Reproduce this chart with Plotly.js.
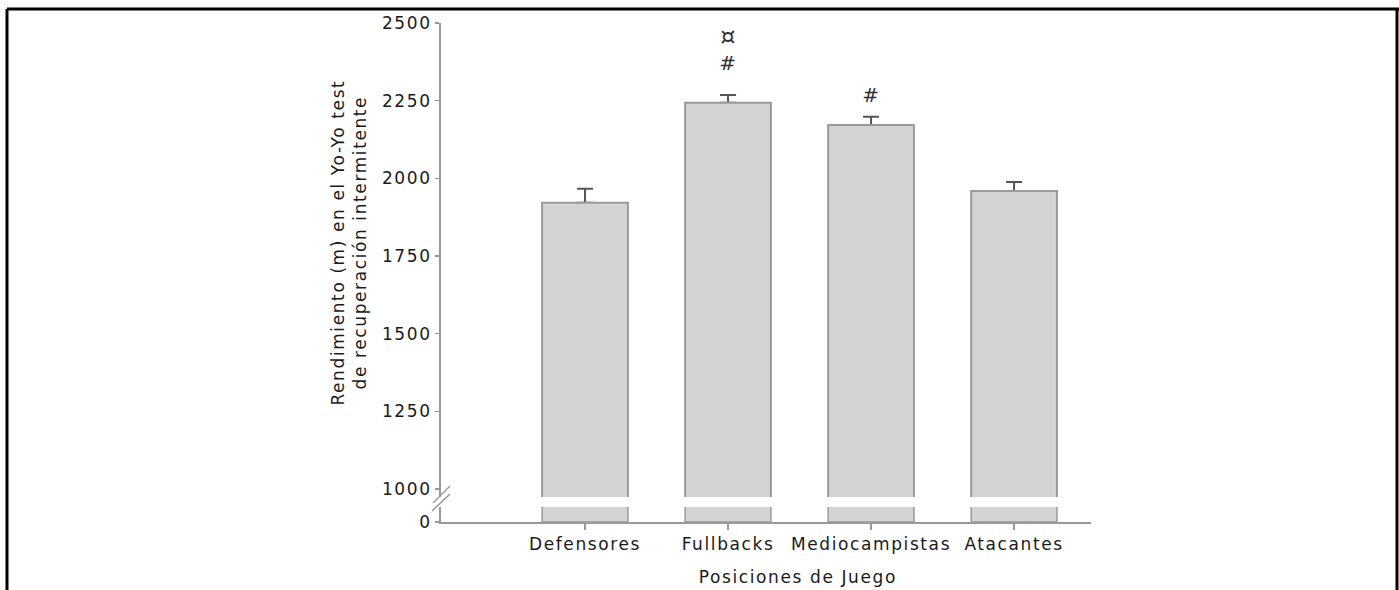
<!DOCTYPE html>
<html>
<head>
<meta charset="utf-8">
<script src="https://cdn.plot.ly/plotly-3.0.1.min.js"></script>
<style>
html, body { margin: 0; padding: 0; background: #fff; }
#chart { width: 1399px; height: 590px; }
.main-svg text { letter-spacing: 1.6px; }
</style>
</head>
<body>
<div id="chart"></div>
<script>
// Data
const categories = ["Defensores", "Fullbacks", "Mediocampistas", "Atacantes"];
const values = [1921, 2243, 2172, 1959];
const errors = [45, 25, 26, 29];
const yTickVals = [1000, 1250, 1500, 1750, 2000, 2250, 2500];
const yTitle = "Rendimiento (m) en el Yo-Yo test<br>de recuperación intermitente";
const xTitle = "Posiciones de Juego";
const marks = [
  {cat: 1, text: "#", shift: 32, size: 20},
  {cat: 1, text: "¤", shift: 58, size: 24},
  {cat: 2, text: "#", shift: 22, size: 20}
];

// Layout geometry (pixels)
const W = 1399, H = 590;
const mL = 441, mR = 1399 - 1091, mT = 23, mB = 590 - 522;
const pw = W - mL - mR, ph = H - mT - mB;
const px = p => (p - mL) / pw;
const py = p => (H - mB - p) / ph;

const font = {family: "DejaVu Sans, Verdana, sans-serif", size: 17, color: "#1a1a1a"};
const axisGray = "#999999";
const barFill = "#d4d4d4";
const barLine = "#9a9a9a";

const zeros = values.map(() => 0);

const lower = {
  type: "bar", x: categories, y: values, xaxis: "x", yaxis: "y2",
  width: 0.6,
  marker: {color: barFill, line: {color: barLine, width: 1.5}},
  hoverinfo: "skip", showlegend: false
};
// error bars drawn first, then covered at their base by the visible bars
const errTrace = {
  type: "bar", x: categories, y: values, xaxis: "x", yaxis: "y",
  width: 0.6,
  marker: {color: "rgba(0,0,0,0)", line: {width: 0}},
  error_y: {type: "data", array: errors, arrayminus: zeros, symmetric: false,
            color: "#555", thickness: 2, width: 8},
  hoverinfo: "skip", showlegend: false
};
const upper = {
  type: "bar", x: categories, y: values, xaxis: "x", yaxis: "y",
  width: 0.6,
  marker: {color: barFill, line: {color: barLine, width: 2}},
  hoverinfo: "skip", showlegend: false
};

const annotations = marks.map(m => ({
  xref: "x", yref: "y", x: categories[m.cat], y: values[m.cat] + errors[m.cat],
  text: m.text, showarrow: false, yanchor: "middle", yshift: m.shift,
  font: {family: font.family, size: m.size, color: "#333"}
}));
annotations.push({
  xref: "paper", yref: "paper", x: px(349), y: py(243), text: yTitle,
  textangle: -90, showarrow: false, xanchor: "center", yanchor: "middle",
  font: font
});
annotations.push({
  xref: "paper", yref: "paper", x: px(798), y: py(577), text: xTitle,
  showarrow: false, xanchor: "center", yanchor: "middle", font: font
});

const lineShape = (x0, y0, x1, y1, color, w) => ({
  type: "line", xref: "paper", yref: "paper",
  x0: px(x0), y0: py(y0), x1: px(x1), y1: py(y1),
  line: {color: color, width: w}
});

const shapes = [
  // outer frame
  lineShape(7, 9, 7, 590, "#000", 3),
  lineShape(7, 9, 1399, 9, "#000", 3),
  lineShape(1397, 9, 1397, 590, "#000", 3),
  // axis break marks
  lineShape(433, 503, 450, 486, axisGray, 1.5),
  lineShape(432, 511, 450, 494, axisGray, 1.5)
];

const layout = {
  width: W, height: H,
  margin: {l: mL, r: mR, t: mT, b: mB, pad: 0},
  paper_bgcolor: "#fff", plot_bgcolor: "rgba(0,0,0,0)",
  font: font,
  barmode: "overlay",
  xaxis: {
    type: "category", range: [-1.007, 3.538], anchor: "y2",
    showline: true, linecolor: axisGray, linewidth: 2,
    ticks: "outside", ticklen: 6, tickcolor: axisGray, tickwidth: 1.5,
    showgrid: false, zeroline: false, tickfont: font, fixedrange: true
  },
  yaxis: {
    domain: [py(497), 1], range: [974, 2500], anchor: "x",
    tickvals: yTickVals, ticktext: yTickVals.map(String),
    showline: true, linecolor: axisGray, linewidth: 2,
    ticks: "outside", ticklen: 4, tickcolor: axisGray, tickwidth: 1.5,
    showgrid: false, zeroline: false, tickfont: font, fixedrange: true
  },
  yaxis2: {
    domain: [0, py(507)], range: [0, 50], anchor: "x",
    tickvals: [0], ticktext: ["0"],
    showline: true, linecolor: axisGray, linewidth: 2,
    ticks: "outside", ticklen: 4, tickcolor: axisGray, tickwidth: 1.5,
    showgrid: false, zeroline: false, tickfont: font, fixedrange: true
  },
  annotations: annotations,
  shapes: shapes
};

Plotly.newPlot("chart", [lower, errTrace, upper], layout, {displayModeBar: false, staticPlot: true});
</script>
</body>
</html>
